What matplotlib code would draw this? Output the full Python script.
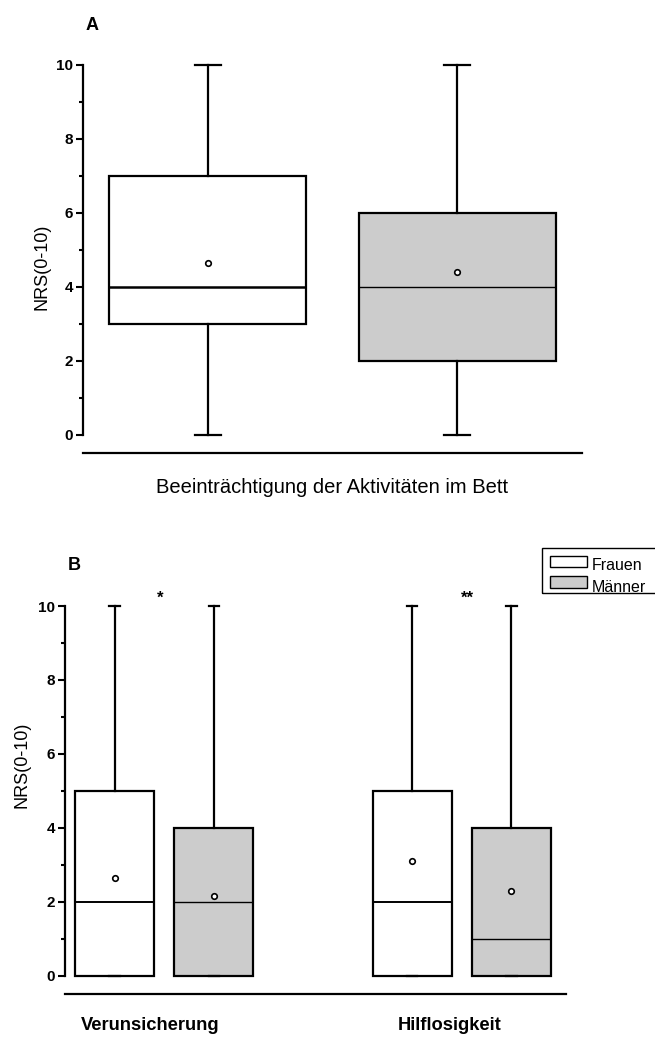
import matplotlib
matplotlib.use("Agg")
import matplotlib.pyplot as plt
from matplotlib.patches import Rectangle

# --------------------
# Data (NRS 0-10)
# --------------------
groups = ["Frauen", "Männer"]
colors = ["white", "#cccccc"]

# Panel A: Beeinträchtigung der Aktivitäten im Bett
a_whislo = [0, 0]
a_q1 = [3, 2]
a_med = [4, 4]
a_q3 = [7, 6]
a_whishi = [10, 10]
a_mean = [4.65, 4.4]

# Panel B: Verunsicherung (F, M), Hilflosigkeit (F, M)
b_categories = ["Verunsicherung", "Hilflosigkeit"]
b_signif = ["*", "**"]
b_whislo = [0, 0, 0, 0]
b_q1 = [0, 0, 0, 0]
b_med = [2, 2, 2, 1]
b_q3 = [5, 4, 5, 4]
b_whishi = [10, 10, 10, 10]
b_mean = [2.65, 2.15, 3.1, 2.3]

W, H = 655, 1037
fig = plt.figure(figsize=(W / 100, H / 100), dpi=100)
plt.rcParams['font.family'] = ['Liberation Sans', 'DejaVu Sans']


def px_axes(left, right, top, bottom):
    return fig.add_axes([left / W, 1 - bottom / H, (right - left) / W, (bottom - top) / H])


def make_stats(whislo, q1, med, q3, whishi, mean):
    return [dict(whislo=a, q1=b, med=c, q3=d, whishi=e, mean=f, fliers=[])
            for a, b, c, d, e, f in zip(whislo, q1, med, q3, whishi, mean)]


def style_axis(ax, ymin, xmax):
    ax.set_xlim(0, xmax)
    ax.set_ylim(ymin, 10)
    ax.spines['top'].set_visible(False)
    ax.spines['right'].set_visible(False)
    ax.spines['left'].set_bounds(0, 10)
    ax.spines['left'].set_linewidth(1.6)
    ax.spines['bottom'].set_linewidth(1.6)
    ax.set_yticks([0, 2, 4, 6, 8, 10])
    ax.set_yticks([1, 3, 5, 7, 9], minor=True)
    ax.tick_params(axis='y', which='major', length=5, width=1.5, labelsize=11, pad=2)
    ax.tick_params(axis='y', which='minor', length=3, width=1.5)
    for lab in ax.get_yticklabels():
        lab.set_fontweight('bold')
    ax.set_xticks([])
    ax.patch.set_alpha(0)


def draw_boxes(ax, stats, positions, widths, fills, medlw):
    bp = ax.bxp(stats, positions=positions, widths=widths, showmeans=True,
                showfliers=False, patch_artist=True, capwidths=widths * 0.13,
                manage_ticks=False,
                boxprops=dict(linewidth=1.6, edgecolor='black'),
                whiskerprops=dict(linewidth=1.6),
                capprops=dict(linewidth=1.6),
                medianprops=dict(color='black', linewidth=1.0),
                meanprops=dict(marker='o', markerfacecolor='white',
                               markeredgecolor='black', markersize=4,
                               markeredgewidth=1.2))
    for patch, fc in zip(bp['boxes'], fills):
        patch.set_facecolor(fc)
    for line, lw in zip(bp['medians'], medlw):
        line.set_linewidth(lw)
    for c in bp['caps'] + bp['whiskers']:
        c.set_clip_on(False)
    return bp


# --------------------
# Panel A
# --------------------
axA = px_axes(83, 582, 65, 453)
draw_boxes(axA, make_stats(a_whislo, a_q1, a_med, a_q3, a_whishi, a_mean),
           [0.5, 1.5], 0.79, colors, [1.8, 1.0])
style_axis(axA, -0.49, 2)
axA.set_ylabel("NRS(0-10)", fontsize=13)
axA.yaxis.set_label_coords(-33 / 499, 0.48)
axA.text(0.5, -0.088, "Beeinträchtigung der Aktivitäten im Bett",
         transform=axA.transAxes, ha='center', va='center', fontsize=14.5)
fig.text(92 / W, 1 - 26 / H, "A", fontsize=13, fontweight='bold', ha='center', va='center')

# --------------------
# Panel B
# --------------------
axB = px_axes(65, 566, 606, 994)
pos_b = [0.5, 1.5, 3.5, 4.5]
draw_boxes(axB, make_stats(b_whislo, b_q1, b_med, b_q3, b_whishi, b_mean),
           pos_b, 0.8, colors * 2, [1.4, 1.0, 1.4, 1.0])
style_axis(axB, -0.49, 5.05)
axB.set_ylabel("NRS(0-10)", fontsize=13)
axB.yaxis.set_label_coords(-34 / 501, 0.59)

for x, cat in zip([0.857, 3.88], b_categories):
    axB.text(x, -0.08, cat, transform=axB.get_xaxis_transform(),
             ha='center', va='center', fontsize=13.2, fontweight='bold')
for x, s in zip([0.96, 4.06], b_signif):
    axB.text(x, 10.2, s, ha='center', va='center', fontsize=12, fontweight='bold')
fig.text(74 / W, 1 - 566 / H, "B", fontsize=13, fontweight='bold', ha='center', va='center')

# --------------------
# Legend (drawn by hand to mimic the original)
# --------------------
def fig_rect(x0, y0, x1, y1, fc, lw):
    fig.add_artist(Rectangle((x0 / W, 1 - y1 / H), (x1 - x0) / W, (y1 - y0) / H,
                             transform=fig.transFigure, facecolor=fc,
                             edgecolor='black', linewidth=lw))

fig_rect(542, 548, 660, 593, 'none', 1.0)
fig_rect(550, 556, 587, 567, colors[0], 1.0)
fig_rect(550, 576, 587, 588, colors[1], 1.0)
fig.text(592 / W, 1 - 566 / H, groups[0], fontsize=11.5, ha='left', va='center')
fig.text(592 / W, 1 - 588 / H, groups[1], fontsize=11.5, ha='left', va='center')

fig.savefig("out.png", dpi=100)
